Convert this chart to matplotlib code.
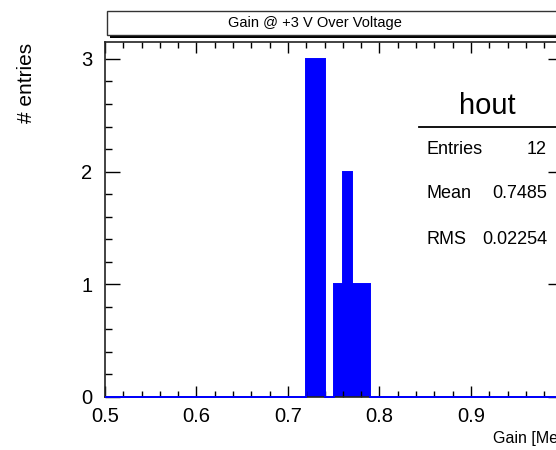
import numpy as np
import matplotlib
matplotlib.use("Agg")
import matplotlib.pyplot as plt
from matplotlib.patches import Rectangle
from matplotlib.lines import Line2D

# histogram "hout": 50 bins of 0.01 between 0.5 and 1.0
x_min, x_max, n_bins = 0.5, 1.0, 50
filled_bins = [0.72, 0.73, 0.75, 0.76, 0.77, 0.78]
filled_counts = [3, 3, 1, 2, 1, 1]

title = "Gain @ +3 V Over Voltage"
x_label = "Gain [MeV]"
y_label = "# entries"
stats_name = "hout"
stats_rows = [("Entries", "12"), ("Mean", "0.7485"), ("RMS", "0.02254")]
x_ticks = [0.5, 0.6, 0.7, 0.8, 0.9, 1.0]
x_tick_labels = ["0.5", "0.6", "0.7", "0.8", "0.9", ""]

edges = np.linspace(x_min, x_max, n_bins + 1)
counts = np.zeros(n_bins)
for b, c in zip(filled_bins, filled_counts):
    counts[int(round((b - x_min) / 0.01))] = c

plt.rcParams["font.family"] = ["Liberation Sans", "DejaVu Sans"]

W, H = 556, 450
fig = plt.figure(figsize=(W / 100, H / 100), dpi=100)

def fx(x):
    return x / W

def fy(y):
    return 1 - y / H

# axes: left 105px, bottom 397px, top 42px, right edge just outside the picture
ax = fig.add_axes([fx(105), fy(397), (562.5 - 105) / W, (397 - 42) / H])
ax.stairs(counts, edges, fill=True, color="#0000ff", linewidth=0)
ax.stairs(counts, edges, fill=False, color="#0000ff", linewidth=1.4,
          clip_on=False, zorder=3)
ax.set_xlim(x_min, x_max)
ax.set_ylim(0, 3.15)

ax.set_xticks(x_ticks)
ax.set_xticklabels(x_tick_labels)
ax.set_xticks(np.arange(0.5, 1.001, 0.02), minor=True)
ax.set_yticks([0, 1, 2, 3])
ax.set_yticks(np.arange(0, 3.15, 0.2), minor=True)
ax.tick_params(axis="both", which="both", direction="in", top=True, right=True,
               color="black", width=1)
ax.tick_params(axis="x", which="major", length=8, labelsize=14.5, pad=7)
ax.tick_params(axis="x", which="minor", length=4.3)
ax.tick_params(axis="y", which="major", length=10.8, labelsize=14.5, pad=9)
ax.tick_params(axis="y", which="minor", length=5.2)
for s in ax.spines.values():
    s.set_linewidth(1.2)
    s.set_color("#222222")

# title box with shadow
fig.patches.append(Rectangle((fx(110), fy(37.5)), fx(600 - 110), (37.5 - 35) / H,
                             transform=fig.transFigure, facecolor="black",
                             edgecolor="none"))
fig.patches.append(Rectangle((fx(106.7), fy(35)), fx(600 - 106.7), (35 - 11) / H,
                             transform=fig.transFigure, facecolor="white",
                             edgecolor="#333333", linewidth=1))
fig.text(fx(315), fy(23.5), title, ha="center", va="center", fontsize=10.5)

# axis labels
fig.text(fx(27), fy(42.5), y_label, rotation=90, ha="center", va="top", fontsize=15)
fig.text(fx(493), fy(438), x_label, ha="left", va="center", fontsize=11.5)

# stats box
fig.text(fx(487), fy(106), stats_name, ha="center", va="center", fontsize=21)
fig.add_artist(Line2D([fx(419), fx(600)], [fy(127), fy(127)],
                      transform=fig.transFigure, color="black", linewidth=1.3))
row_y = [150, 194, 239]
for (name, val), y in zip(stats_rows, row_y):
    fig.text(fx(426), fy(y), name, ha="left", va="center", fontsize=13)
    fig.text(fx(547), fy(y), val, ha="right", va="center", fontsize=13)

fig.savefig("out.png", dpi=100)
